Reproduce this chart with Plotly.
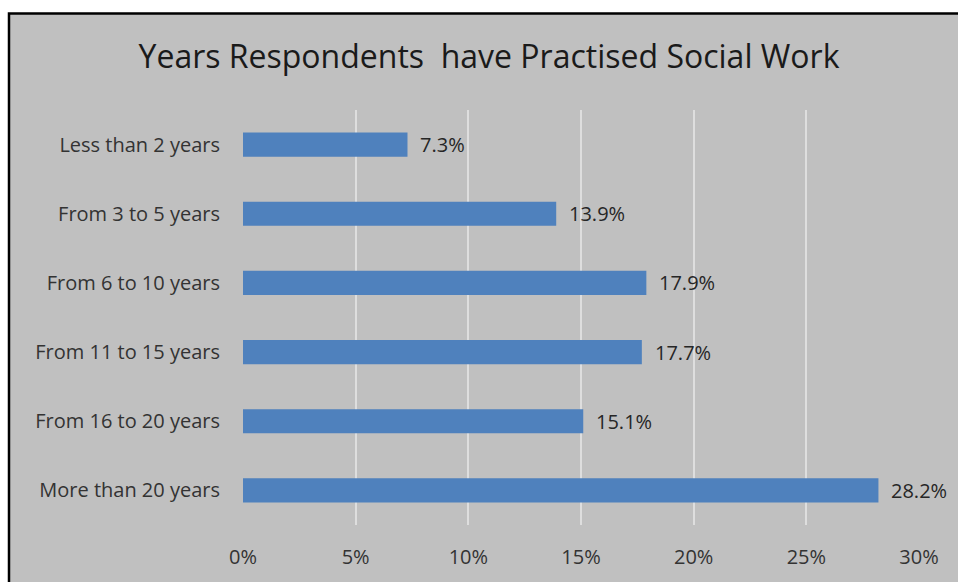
import plotly.graph_objects as go

# Data
categories = [
    "Less than 2 years",
    "From 3 to 5 years",
    "From 6 to 10 years",
    "From 11 to 15 years",
    "From 16 to 20 years",
    "More than 20 years",
]
percentages = [7.3, 13.9, 17.9, 17.7, 15.1, 28.2]
x_ticks = [0, 5, 10, 15, 20, 25, 30]
x_tick_labels = ["0%", "5%", "10%", "15%", "20%", "25%", "30%"]

W, H = 958, 582
ML, MR, MT, MB = 243, 39, 110, 55
PW, PH = W - ML - MR, H - MT - MB


def px_x(p):
    return (p - ML) / PW


def px_y(p):
    return (H - MB - p) / PH


BG = "#c0c0c0"
BAR = "#4f81bd"
FONT = "Open Sans, Noto Sans, sans-serif"
LABEL_SIZE = 20

fig = go.Figure(
    go.Bar(
        y=categories,
        x=percentages,
        orientation="h",
        marker=dict(color=BAR, line=dict(width=0)),
        width=0.35,
        hoverinfo="x+y",
    )
)

# value labels placed just past each bar's end
for cat, val in zip(categories, percentages):
    fig.add_annotation(
        x=val,
        y=cat,
        xref="x",
        yref="y",
        text=f"{val:.1f}%",
        showarrow=False,
        xanchor="left",
        yanchor="middle",
        xshift=11,
        font=dict(family=FONT, size=LABEL_SIZE, color="#262626"),
    )

fig.update_layout(
    width=W,
    height=H,
    margin=dict(l=ML, r=MR, t=MT, b=MB, pad=0),
    paper_bgcolor="white",
    plot_bgcolor="rgba(0,0,0,0)",
    showlegend=False,
    title=dict(
        text="Years Respondents\u00a0 have Practised Social Work",
        font=dict(family=FONT, size=32, color="#1a1a1a"),
        x=px_x(489),
        xref="paper",
        xanchor="center",
        y=1 - 57 / H,
        yref="container",
        yanchor="middle",
    ),
    xaxis=dict(
        range=[0, 30],
        tickvals=x_ticks,
        ticktext=x_tick_labels,
        showgrid=True,
        gridcolor="#dedede",
        gridwidth=1.5,
        zeroline=False,
        showline=False,
        ticks="",
        ticklabelstandoff=18,
        tickfont=dict(family=FONT, size=LABEL_SIZE, color="#333333"),
        fixedrange=True,
    ),
    yaxis=dict(
        categoryorder="array",
        categoryarray=categories[::-1],
        autorange=False,
        range=[-0.5, 5.5],
        showgrid=False,
        zeroline=False,
        showline=False,
        ticks="",
        ticklabelstandoff=22,
        tickfont=dict(family=FONT, size=LABEL_SIZE, color="#333333"),
        fixedrange=True,
    ),
    shapes=[
        dict(
            type="rect",
            xref="paper",
            yref="paper",
            x0=px_x(9),
            x1=px_x(W + 10),
            y0=px_y(H + 10),
            y1=px_y(13),
            fillcolor=BG,
            line=dict(color="black", width=2.5),
            layer="below",
        )
    ],
)

fig.write_html("out.html")
